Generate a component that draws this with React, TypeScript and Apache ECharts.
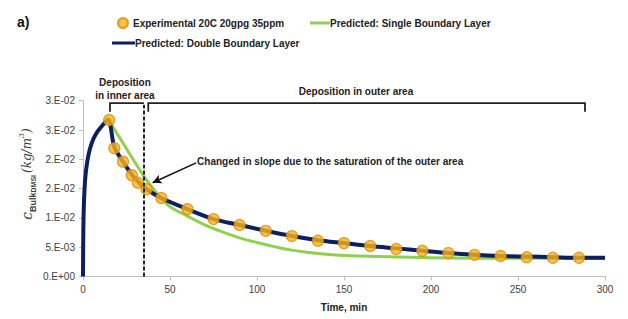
import React, { useEffect, useRef } from "react";
import * as echarts from "echarts";

const yTickLabels = ["0.E+00", "5.E-03", "1.E-02", "2.E-02", "2.E-02", "3.E-02", "3.E-02"];

const expTimes = [15, 18, 23, 28, 31.5, 36.5, 45, 60, 75, 90, 105, 120, 135, 150, 165, 180, 195, 210, 225, 240, 255, 270, 285];
const expValues = [0.0267, 0.0219, 0.0196, 0.0173, 0.016, 0.0149, 0.0134, 0.0115, 0.0098, 0.0088, 0.0078, 0.0069, 0.0061, 0.0057, 0.0052, 0.0047, 0.0044, 0.004, 0.0037, 0.0035, 0.0033, 0.0032, 0.0032];

const doubleTimes = [0, 0.2, 0.6, 1.3, 2.5, 4, 6, 8.5, 11.5, 14.5, 18, 23, 28, 32, 36, 45, 60, 75, 90, 105, 120, 135, 150, 165, 180, 195, 210, 225, 240, 255, 270, 285, 300];
const doubleValues = [0, 0.008, 0.013, 0.0168, 0.0197, 0.0218, 0.0235, 0.0248, 0.0259, 0.0268, 0.0221, 0.0196, 0.0174, 0.0161, 0.015, 0.0134, 0.0115, 0.0098, 0.0088, 0.0078, 0.0069, 0.0062, 0.0057, 0.0052, 0.0048, 0.0044, 0.004, 0.0037, 0.0035, 0.0034, 0.0033, 0.0032, 0.0032];

const singleTimes = [14.5, 20, 25, 30, 35, 40, 45, 50, 60, 70, 80, 90, 100, 110, 120, 130, 140, 150, 170, 200, 250, 300];
const singleValues = [0.0268, 0.0242, 0.0218, 0.0194, 0.0171, 0.0151, 0.0133, 0.0119, 0.0103, 0.0088, 0.0076, 0.0066, 0.0058, 0.0051, 0.0045, 0.0041, 0.0038, 0.0036, 0.0034, 0.0032, 0.0031, 0.0031];

const dividerTime = 35;
const innerBracket = [15.5, 35];
const outerBracket = [37.5, 288.5];
const arrowTail = [65, 0.0194];
const arrowHead = [40, 0.016];

const legendExp = "Experimental 20C 20gpg 35ppm";
const legendSingle = "Predicted: Single Boundary Layer";
const legendDouble = "Predicted: Double Boundary Layer";

const FONT = "'Liberation Sans Narrow', 'Liberation Sans', Arial, sans-serif";
const SERIF = "'DejaVu Serif', 'Liberation Serif', serif";
const NAVY = "#0d1f5c";
const GREEN = "#8fd14f";
const ORANGE = "#f7b31a";
const ORANGE_BORDER = "#d98a0c";

const zip = (a: number[], b: number[]) => a.map((v, i) => [v, b[i]]);

export default function App() {
  const ref = useRef<HTMLDivElement>(null);
  useEffect(() => {
    if (!ref.current) return;
    const chart = echarts.init(ref.current, undefined, { renderer: "svg" });
    const legendText = { fontFamily: FONT, fontSize: 10, fontWeight: "bold" as const, color: "#222" };
    chart.setOption({
      animation: false,
      backgroundColor: "#fff",
      grid: { left: 83, right: 23, top: 100.7, bottom: 42.5 },
      legend: [
        { data: [{ name: legendExp, icon: "circle" }], left: 117, top: 17, itemWidth: 10, itemHeight: 10, itemGap: 4, textStyle: legendText, padding: 0 },
        { data: [{ name: legendSingle, icon: "rect" }], left: 310, top: 18, itemWidth: 20, itemHeight: 3, textStyle: { ...legendText, padding: [0, 0, 0, -5] }, padding: 0 },
        { data: [{ name: legendDouble, icon: "rect" }], left: 112, top: 38, itemWidth: 23, itemHeight: 3, textStyle: { ...legendText, padding: [0, 0, 0, -5] }, padding: 0 },
      ],
      xAxis: {
        type: "value", min: 0, max: 300, interval: 50,
        name: "Time, min", nameLocation: "middle", nameGap: 26,
        nameTextStyle: { fontFamily: FONT, fontSize: 10, fontWeight: "bold", color: "#222" },
        axisLine: { lineStyle: { color: "#bfbfbf" } },
        axisTick: { show: true, length: 4, lineStyle: { color: "#bfbfbf" } },
        axisLabel: { fontFamily: FONT, fontSize: 10, color: "#404040", margin: 8 },
        splitLine: { show: false },
      },
      yAxis: {
        type: "value", min: 0, max: 0.03, interval: 0.005,
        axisLine: { show: true, lineStyle: { color: "#bfbfbf" } },
        axisTick: { show: true, length: 4, lineStyle: { color: "#bfbfbf" } },
        axisLabel: {
          fontFamily: FONT, fontSize: 10, color: "#404040", margin: 8,
          formatter: (v: number) => yTickLabels[Math.round(v / 0.005)] ?? "",
        },
        splitLine: { show: false },
      },
      series: [
        {
          name: legendSingle, type: "line", data: zip(singleTimes, singleValues), smooth: 0.4, showSymbol: false,
          lineStyle: { color: GREEN, width: 3 }, itemStyle: { color: GREEN }, z: 2,
        },
        {
          name: legendDouble, type: "line", data: zip(doubleTimes, doubleValues), smooth: 0.3, showSymbol: false,
          lineStyle: { color: NAVY, width: 4 }, itemStyle: { color: NAVY }, z: 3,
          markLine: {
            silent: true, symbol: ["none", "none"], label: { show: false },
            lineStyle: { color: "#222", type: [4, 2], width: 2 },
            data: [[{ coord: [dividerTime, 0] }, { coord: [dividerTime, 0.0293] }]],
          },
        },
        {
          name: legendExp, type: "scatter", data: zip(expTimes, expValues), symbolSize: 11,
          itemStyle: { color: ORANGE, borderColor: ORANGE_BORDER, borderWidth: 1.2 }, z: 4,
          markLine: {
            silent: true, symbol: ["none", "arrow"], symbolSize: [7, 9], label: { show: false },
            lineStyle: { color: "#111", type: "solid", width: 1.5 },
            data: [[{ coord: arrowTail }, { coord: arrowHead }]],
          },
        },
      ],
    });

    const px = (x: number, y: number) => chart.convertToPixel({ gridIndex: 0 }, [x, y]) as number[];
    const topY = px(0, 0.03)[1];
    const bTop = topY + 2.5;
    const bBot = topY + 11;
    const [iL] = px(innerBracket[0], 0);
    const [iR] = px(innerBracket[1], 0);
    const [oL] = px(outerBracket[0], 0);
    const [oR] = px(outerBracket[1], 0);
    const tailPx = px(arrowTail[0], arrowTail[1]);
    const bracketStyle = { stroke: "#222", lineWidth: 1.8, fill: "none" };
    const annText = { fontFamily: FONT, fontSize: 10, fontWeight: "bold", fill: "#222" };
    const tc = "#404040";

    chart.setOption({
      graphic: [
        { type: "text", left: 17, top: 15, style: { text: "a)", fontFamily: FONT, fontSize: 14, fontWeight: "bold", fill: "#111" } },
        { type: "polyline", shape: { points: [[iL, bBot], [iL, bTop], [iR, bTop]] }, style: bracketStyle },
        { type: "polyline", shape: { points: [[oL, bBot], [oL, bTop], [oR, bTop], [oR, bBot]] }, style: bracketStyle },
        { type: "text", x: (iL + iR) / 2 - 2, y: 76, style: { ...annText, text: "Deposition\nin inner area", align: "center", verticalAlign: "top", lineHeight: 13 } },
        { type: "text", x: 356, y: 91, style: { ...annText, text: "Deposition in outer area", align: "center", verticalAlign: "middle" } },
        { type: "text", x: tailPx[0] + 1, y: tailPx[1] - 1, style: { ...annText, text: "Changed in slope due to the saturation of the outer area", align: "left", verticalAlign: "middle" } },
        {
          type: "text", x: 27, y: 174, rotation: Math.PI / 2,
          style: {
            text: "{c|c}{sub|Bulk}{subsub|DMSI}{n| }{it|(kg/m}{sup|3}{it|)}",
            align: "center", verticalAlign: "middle", fill: tc,
            rich: {
              c: { fontFamily: SERIF, fontStyle: "italic", fontSize: 14, fill: tc, lineHeight: 20, verticalAlign: "middle" },
              sub: { fontFamily: FONT, fontSize: 9, fontWeight: "bold", fill: tc, lineHeight: 20, verticalAlign: "bottom", padding: [7, 0, 0, 0] },
              subsub: { fontFamily: FONT, fontSize: 7, fontWeight: "bold", fill: tc, lineHeight: 20, verticalAlign: "bottom", padding: [10, 0, 0, 0] },
              n: { fontSize: 7, lineHeight: 20 },
              it: { fontFamily: SERIF, fontStyle: "italic", fontSize: 12, fill: tc, lineHeight: 20, verticalAlign: "middle" },
              sup: { fontFamily: SERIF, fontStyle: "italic", fontSize: 8, fill: tc, lineHeight: 20, verticalAlign: "top", padding: [0, 0, 7, 0] },
            },
          },
        },
      ],
    });

    return () => chart.dispose();
  }, []);
  return <div ref={ref} style={{ width: 628, height: 319, position: "absolute", left: 0, top: 0 }} />;
}
